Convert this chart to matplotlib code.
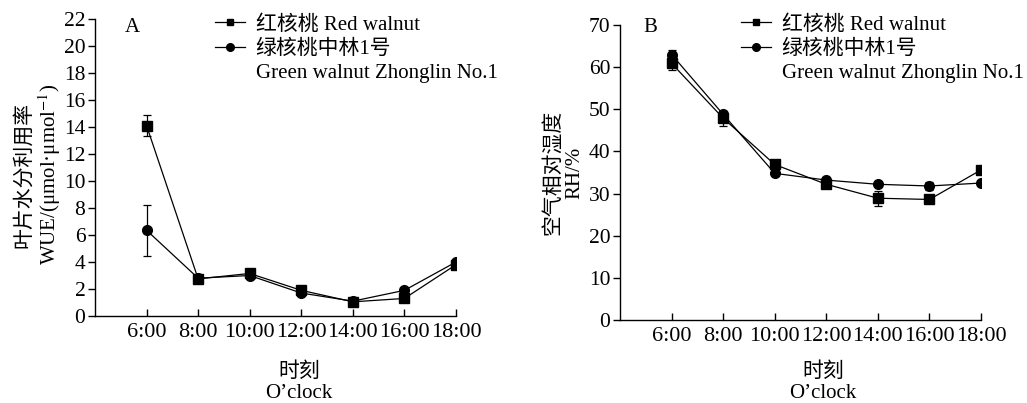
import matplotlib
matplotlib.use("Agg")
import matplotlib.pyplot as plt
from matplotlib.lines import Line2D

plt.rcParams['font.family'] = ['Liberation Serif', 'Noto Sans CJK SC']
plt.rcParams['mathtext.fontset'] = 'stix'

times = ["6:00", "8:00", "10:00", "12:00", "14:00", "16:00", "18:00"]

# Panel A: WUE
wue_red = [14.1, 2.75, 3.15, 1.9, 1.05, 1.3, 3.8]
wue_red_err = [0.8, 0.15, 0.3, 0.15, 0.1, 0.1, 0.2]
wue_green = [6.35, 2.8, 3.0, 1.7, 1.1, 1.9, 4.0]
wue_green_err = [1.9, 0.1, 0.15, 0.1, 0.1, 0.1, 0.15]

# Panel B: RH
rh_red = [60.9, 47.9, 36.9, 32.2, 28.9, 28.6, 35.6]
rh_red_err = [1.5, 1.8, 0.5, 0.5, 1.8, 0.8, 0.4]
rh_green = [63.0, 48.8, 34.8, 33.2, 32.2, 31.8, 32.5]
rh_green_err = [1.0, 0.5, 0.4, 0.4, 0.4, 1.0, 0.4]

label_red = "红核桃 Red walnut"
label_green1 = "绿核桃中林1号"
label_green2 = "Green walnut Zhonglin No.1"

W, H = 1027, 403
fig = plt.figure(figsize=(W / 100, H / 100), dpi=100)
fs = 15

def px_ax(l, r, b, t):
    return [l / W, 1 - b / H, (r - l) / W, (b - t) / H]

axA = fig.add_axes(px_ax(95, 456, 316, 19))
axB = fig.add_axes(px_ax(620, 981, 320, 25))

x = list(range(1, len(times) + 1))

def draw(ax, red, rerr, green, gerr, ylim, yticks):
    ax.errorbar(x, red, yerr=rerr, color='black', lw=0.9, marker='s', ms=6.5,
                capsize=3, elinewidth=0.9, capthick=0.9)
    ax.errorbar(x, green, yerr=gerr, color='black', lw=0.9, marker='o', ms=7,
                capsize=3, elinewidth=0.9, capthick=0.9)
    ax.set_xlim(0, 7)
    ax.set_ylim(*ylim)
    ax.set_xticks(x)
    ax.set_xticklabels(times)
    ax.set_yticks(yticks)
    for s in ['top', 'right']:
        ax.spines[s].set_visible(False)
    for s in ['left', 'bottom']:
        ax.spines[s].set_linewidth(1.0)
    ax.tick_params(axis='y', direction='out', length=5, width=1.0,
                   labelsize=15.5, pad=2)
    ax.tick_params(axis='x', direction='in', length=5, width=1.0,
                   labelsize=16, pad=5)

draw(axA, wue_red, wue_red_err, wue_green, wue_green_err, (0, 22), range(0, 23, 2))
draw(axB, rh_red, rh_red_err, rh_green, rh_green_err, (0, 70), range(0, 71, 10))

axA.set_ylabel("叶片水分利用率\nWUE/(μmol·μmol$^{-1}$)", fontsize=fs, linespacing=1.1)
axA.yaxis.set_label_coords(-0.09, 0.475)
axB.set_ylabel("空气相对湿度\nRH/%", fontsize=fs, linespacing=1.1)
axB.yaxis.set_label_coords(-0.1, 0.5)

axA.set_xlabel("时刻\nO’clock", fontsize=fs, linespacing=1.15)
axA.xaxis.set_label_coords(0.565, -0.155)
axB.set_xlabel("时刻\nO’clock", fontsize=fs, linespacing=1.15)
axB.xaxis.set_label_coords(0.562, -0.143)

fig.text(132 / W, 1 - 27 / H, "A", fontsize=fs, ha='center', va='center')
fig.text(650 / W, 1 - 27 / H, "B", fontsize=fs, ha='center', va='center')

def legend(ax, lx, ty):
    h_red = Line2D([], [], color='black', lw=0.9, marker='s', ms=5)
    h_green = Line2D([], [], color='black', lw=0.9, marker='o', ms=5.5)
    h_none = Line2D([], [], linestyle='none')
    ax.legend([h_red, h_green, h_none], [label_red, label_green1, label_green2],
              loc='upper left', bbox_to_anchor=(lx / W, 1 - ty / H),
              bbox_transform=fig.transFigure, frameon=False, fontsize=fs,
              handlelength=1.45, handletextpad=0.5, labelspacing=0.22,
              borderpad=0, borderaxespad=0)

legend(axA, 215, 15)
legend(axB, 741, 15)

fig.savefig("out.png", dpi=100, facecolor='white')
